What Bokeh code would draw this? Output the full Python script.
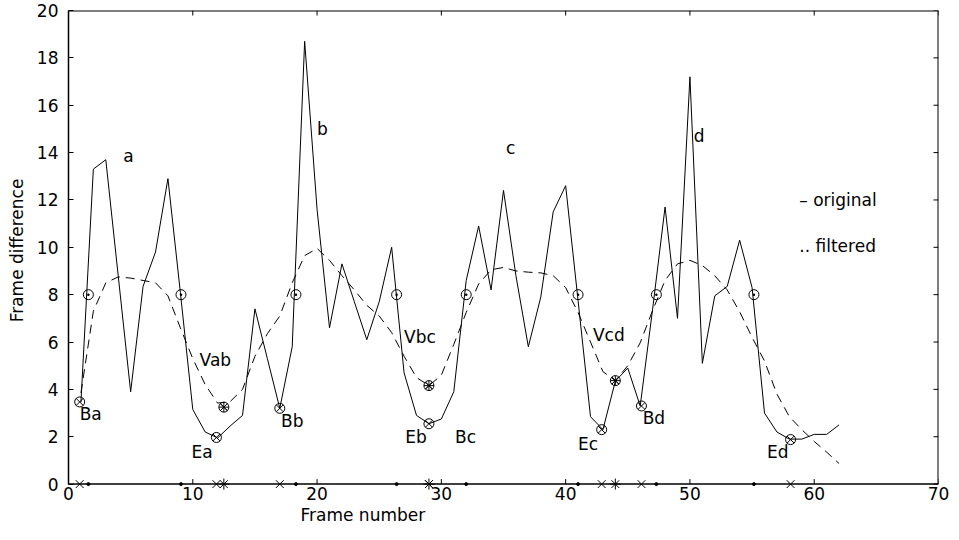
from bokeh.plotting import figure
from bokeh.models import Range1d, Title, FixedTicker
from bokeh.core.properties import value
from bokeh.embed import file_html
from bokeh.resources import INLINE

# ---------------- data ----------------
frames = list(range(1, 63))
original = [3.45, 13.3, 13.7, 8.8, 3.9, 8.35, 9.8, 12.9, 8.1, 3.15,
            2.2, 1.95, 2.45, 2.9, 7.4, 5.3, 3.2, 5.8, 18.7, 11.6,
            6.6, 9.3, 7.7, 6.1, 7.7, 10.0, 4.7, 2.9, 2.55, 2.75,
            3.9, 8.6, 10.9, 8.2, 12.4, 8.8, 5.8, 7.9, 11.5, 12.6,
            7.75, 2.85, 2.3, 4.35, 4.9, 3.3, 7.4, 11.7, 7.0, 17.2,
            5.1, 7.95, 8.35, 10.3, 8.3, 3.0, 2.2, 1.9, 1.9, 2.1,
            2.1, 2.5]
filtered = [3.85, 7.3, 8.5, 8.75, 8.7, 8.6, 8.5, 7.95, 6.6, 5.3,
            4.2, 3.42, 3.48, 4.0, 5.4, 6.35, 7.1, 8.5, 9.65, 9.95,
            9.45, 8.8, 8.2, 7.55, 7.1, 6.4, 5.4, 4.5, 4.16, 4.6,
            5.9, 7.25, 8.45, 9.05, 9.15, 9.0, 8.95, 8.92, 8.8, 8.3,
            7.25, 6.0, 4.75, 4.37, 5.0, 5.97, 7.34, 8.6, 9.3, 9.45,
            9.23, 8.8, 8.2, 7.28, 6.2, 5.2, 3.8, 2.85, 2.3, 1.8,
            1.35, 0.87]

threshold = 8
crossing_x = [1.6, 9.05, 18.3, 26.4, 32.0, 41.0, 47.3, 55.15]

be_names = ["Ba", "Ea", "Bb", "Eb", "Ec", "Bd", "Ed"]
be_x = [0.9, 11.9, 17.0, 29.0, 42.9, 46.1, 58.1]
be_y = [3.47, 1.97, 3.2, 2.55, 2.3, 3.3, 1.88]

v_names = ["Vab", "Vbc", "Vcd"]
v_x = [12.5, 29.0, 44.0]
v_y = [3.25, 4.16, 4.37]

baseline = 0

label_text = ["a", "b", "c", "d", "Vab", "Vbc", "Vcd",
              "Ba", "Ea", "Bb", "Eb", "Bc", "Ec", "Bd", "Ed",
              "\u2013 original", ".. filtered"]
label_x = [4.4, 20.0, 35.2, 50.3, 10.55, 27.0, 42.2,
           0.9, 9.9, 17.1, 27.1, 31.1, 41.0, 46.2, 56.2,
           58.8, 58.8]
label_y = [13.85, 15.0, 14.2, 14.7, 5.24, 6.2, 6.3,
           2.95, 1.37, 2.66, 2.0, 2.0, 1.7, 2.8, 1.37,
           12.0, 10.05]

x_min, x_max = 0, 70
y_min, y_max = 0, 20
x_ticks = [0, 10, 20, 30, 40, 50, 60, 70]
y_ticks = [0, 2, 4, 6, 8, 10, 12, 14, 16, 18, 20]
x_title = "Frame number"
y_title = "Frame difference"

# ---------------- figure ----------------
FONT = "DejaVu Sans"
FS = "17px"
W, H = 951, 524
BL, BR, BT = 68, 13, 10
TICK_PX = 5
PAD = 0.27          # room under the zero line so the markers there are not cut

p = figure(width=W, height=H, output_backend="svg", toolbar_location=None,
           x_range=Range1d(x_min, x_max), y_range=Range1d(y_min - PAD, y_max),
           min_border_left=BL, min_border_right=BR, min_border_top=BT,
           min_border_bottom=0, background_fill_color="white",
           border_fill_color="white")
p.xgrid.visible = False
p.ygrid.visible = False
p.outline_line_color = None

for ax, ticks in ((p.xaxis[0], x_ticks), (p.yaxis[0], y_ticks)):
    ax.ticker = FixedTicker(ticks=ticks)
    ax.major_tick_in = TICK_PX
    ax.major_tick_out = 0
    ax.minor_tick_line_color = None
    ax.axis_line_color = "black"
    ax.axis_line_width = 1.5
    ax.major_tick_line_color = "black"
    ax.major_label_text_font = FONT
    ax.major_label_text_font_size = FS
    ax.major_label_text_color = "black"
# bottom axis only supplies the labels; its line and ticks are drawn at y = 0 below
p.xaxis[0].axis_line_color = None
p.xaxis[0].major_tick_line_color = None
p.xaxis[0].major_label_standoff = -4
p.yaxis[0].bounds = (y_min, y_max)
p.yaxis[0].major_label_standoff = 10
p.yaxis[0].axis_label = y_title
p.yaxis[0].axis_label_text_font = FONT
p.yaxis[0].axis_label_text_font_size = FS
p.yaxis[0].axis_label_text_font_style = "normal"
p.yaxis[0].axis_label_text_color = "black"
p.yaxis[0].axis_label_standoff = 7

# x-axis title, placed left of centre like the original
p.add_layout(Title(text=x_title, align="left", offset=232, standoff=0,
                   text_font=FONT, text_font_size=FS, text_font_style="normal",
                   text_color="black"), "below")

# box: zero line (bottom), top edge and right edge, with inward ticks
frame_w = W - BL - BR
frame_h = H - BT - 36
dy = TICK_PX * (y_max - y_min + PAD) / frame_h
dx = TICK_PX * (x_max - x_min) / frame_w
p.segment(x0=[x_min], y0=[y_min], x1=[x_max], y1=[y_min], line_color="black", line_width=1.5)
p.segment(x0=[x_min], y0=[y_max], x1=[x_max], y1=[y_max], line_color="black", line_width=2)
p.segment(x0=[x_max], y0=[y_min], x1=[x_max], y1=[y_max], line_color="black", line_width=2)
p.segment(x0=x_ticks, y0=[y_min] * len(x_ticks), x1=x_ticks, y1=[y_min + dy] * len(x_ticks),
          line_color="black", line_width=1)
p.segment(x0=x_ticks, y0=[y_max] * len(x_ticks), x1=x_ticks, y1=[y_max - dy] * len(x_ticks),
          line_color="black", line_width=1)
p.segment(x0=[x_max - dx] * len(y_ticks), y0=y_ticks, x1=[x_max] * len(y_ticks), y1=y_ticks,
          line_color="black", line_width=1)

# curves
p.line(frames, original, line_color="black", line_width=1)
p.line(frames, filtered, line_color="black", line_width=1, line_dash="9 6")

# markers on the curves
p.scatter(crossing_x, [threshold] * len(crossing_x), marker="circle_dot", size=10,
          fill_color=None, line_color="black", line_width=1)
p.scatter(be_x, be_y, marker="circle_x", size=10, fill_color=None,
          line_color="black", line_width=1)
p.scatter(v_x, v_y, marker="circle_x", size=10, fill_color=None,
          line_color="black", line_width=1)
p.scatter(v_x, v_y, marker="asterisk", size=10, line_color="black", line_width=1)

# projections onto the x axis
p.scatter(be_x, [baseline] * len(be_x), marker="x", size=11, line_color="black", line_width=1)
p.scatter(v_x, [baseline] * len(v_x), marker="asterisk", size=11, line_color="black", line_width=1)
p.scatter(crossing_x, [baseline] * len(crossing_x), marker="circle", size=3,
          fill_color="black", line_color="black")

# text annotations
p.text(label_x, label_y, text=label_text, text_font=value(FONT), text_font_size=FS,
       text_align="left", text_baseline="middle", text_color="black")

open("out.html", "w").write(file_html(p, INLINE))
